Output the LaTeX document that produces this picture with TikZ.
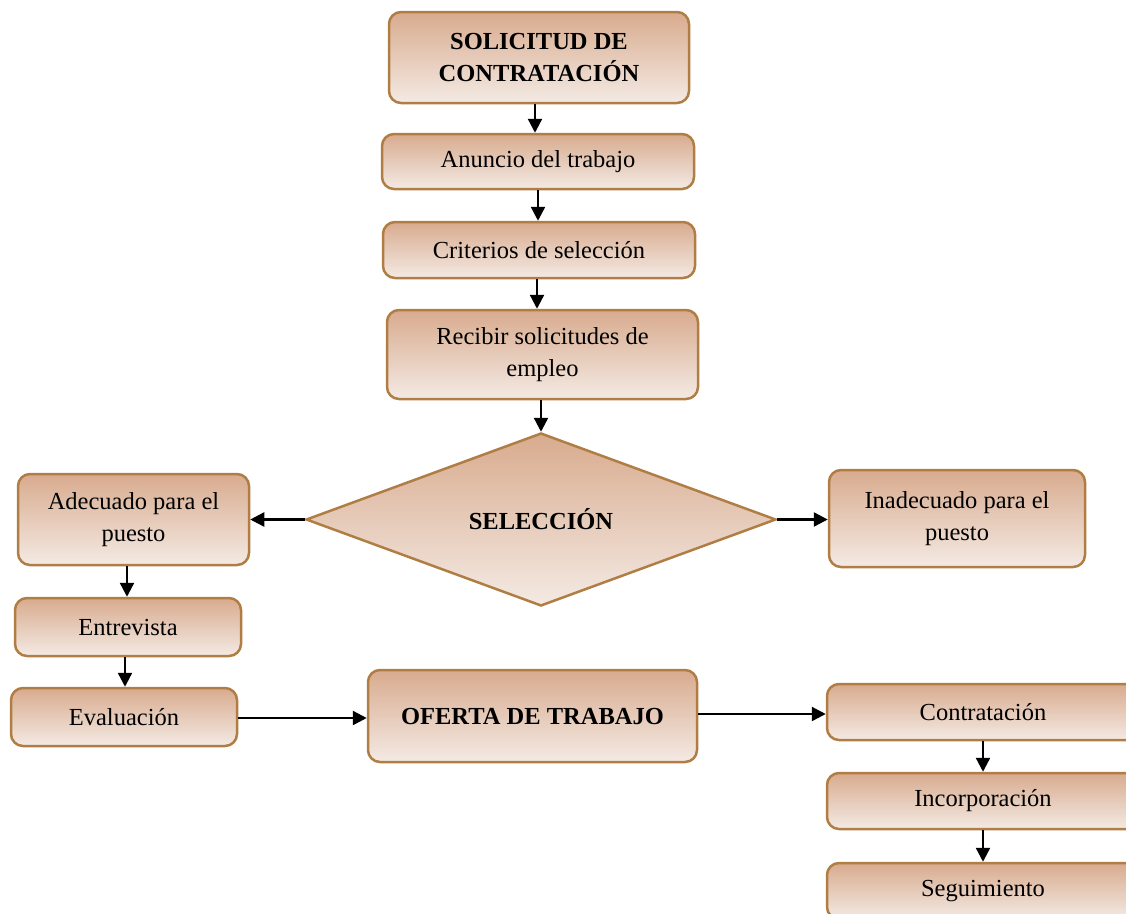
\documentclass[tikz,border=0pt]{standalone}
\usepackage{fontspec}
\setmainfont{Liberation Serif}
\usetikzlibrary{shapes.geometric,arrows.meta}
\definecolor{boxtop}{HTML}{D8AB8E}
\definecolor{boxbot}{HTML}{F4EAE4}
\definecolor{boxline}{HTML}{B07E45}
\tikzset{
  stepbox/.style={draw=boxline, line width=2.5pt, rounded corners=12pt,
    top color=boxtop, bottom color=boxbot, align=center, inner sep=0pt,
    font=\fontsize{24.5}{31.5}\selectfont},
  decbox/.style={diamond, draw=boxline, line width=2.5pt,
    top color=boxtop, bottom color=boxbot, inner sep=0pt,
    minimum width=470pt, minimum height=173pt,
    font=\fontsize{24.5}{31.5}\selectfont\bfseries},
  arr/.style={line width=2.4pt, -{Triangle[length=14pt,width=14pt]}}
}
\begin{document}
\begin{tikzpicture}[x=1pt,y=-1pt]
\useasboundingbox (0,0) rectangle (1126,913);
\clip (0,0) rectangle (1126,913);
\node[stepbox, minimum width=300pt, minimum height=91pt, font=\fontsize{24.5}{31.5}\selectfont\bfseries] (sol) at (539,57.5) {SOLICITUD DE\\CONTRATACIÓN};
\node[stepbox, minimum width=312pt, minimum height=55pt] (anu) at (538,161.5) {Anuncio del trabajo};
\node[stepbox, minimum width=312pt, minimum height=56pt] (cri) at (539,250) {Criterios de selección};
\node[stepbox, minimum width=311pt, minimum height=89pt] (rec) at (542.5,354.5) {Recibir solicitudes de\\empleo};
\node[decbox] (sel) at (541,519.5) {SELECCIÓN};
\node[stepbox, minimum width=231pt, minimum height=91pt] (ade) at (133.5,519.5) {Adecuado para el\\puesto};
\node[stepbox, minimum width=256pt, minimum height=97pt] (ina) at (957,518.5) {Inadecuado para el\\puesto};
\node[stepbox, minimum width=226pt, minimum height=58pt] (ent) at (128,627) {Entrevista};
\node[stepbox, minimum width=226pt, minimum height=58pt] (eva) at (124,717) {Evaluación};
\node[stepbox, minimum width=329pt, minimum height=92pt, font=\fontsize{24.5}{31.5}\selectfont\bfseries] (ofe) at (532.5,716) {OFERTA DE TRABAJO};
\node[stepbox, minimum width=312pt, minimum height=56pt] (con) at (983,712) {Contratación};
\node[stepbox, minimum width=312pt, minimum height=56pt] (inc) at (983,801) {Incorporación};
\node[stepbox, minimum width=312pt, minimum height=56pt] (seg) at (983,891) {Seguimiento};
\draw[arr] (sol.south -| 535,0) -- (anu.north -| 535,0);
\draw[arr] (anu.south -| 538,0) -- (cri.north -| 538,0);
\draw[arr] (cri.south -| 537,0) -- (rec.north -| 537,0);
\draw[arr] (rec.south -| sel.north) -- (sel.north);
\draw[arr] (sel.west) -- (ade.east |- sel.west);
\draw[arr] (sel.east) -- (ina.west |- sel.east);
\draw[arr] (ade.south -| 127,0) -- (ent.north -| 127,0);
\draw[arr] (ent.south -| 125,0) -- (eva.north -| 125,0);
\draw[arr] (eva.east |- 0,718) -- (ofe.west |- 0,718);
\draw[arr] (ofe.east |- 0,714) -- (con.west |- 0,714);
\draw[arr] (con.south) -- (inc.north);
\draw[arr] (inc.south) -- (seg.north);
\end{tikzpicture}
\end{document}
